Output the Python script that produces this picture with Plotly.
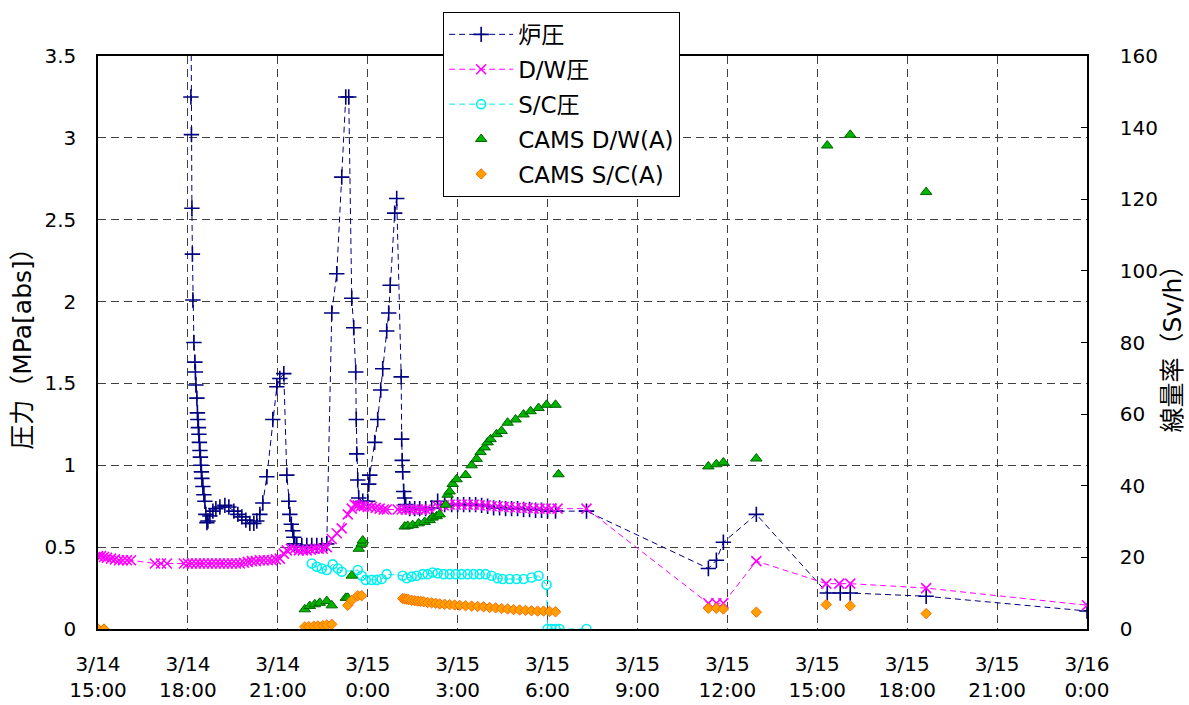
import pandas as pd
import plotly.graph_objects as go

# ---------------- data ----------------
rp_time = ["3/14 18:04", "3/14 18:06", "3/14 18:07", "3/14 18:08", "3/14 18:09", "3/14 18:10", "3/14 18:12",
           "3/14 18:14", "3/14 18:15", "3/14 18:16", "3/14 18:18", "3/14 18:19", "3/14 18:20", "3/14 18:21",
           "3/14 18:22", "3/14 18:23", "3/14 18:24", "3/14 18:25", "3/14 18:26", "3/14 18:27", "3/14 18:28",
           "3/14 18:30", "3/14 18:32", "3/14 18:34", "3/14 18:36", "3/14 18:38", "3/14 18:40", "3/14 18:44",
           "3/14 18:50", "3/14 18:56", "3/14 19:04", "3/14 19:14", "3/14 19:22", "3/14 19:32", "3/14 19:40",
           "3/14 19:48", "3/14 19:56", "3/14 20:04", "3/14 20:12", "3/14 20:18", "3/14 20:24", "3/14 20:30",
           "3/14 20:38", "3/14 20:50", "3/14 20:58", "3/14 21:04", "3/14 21:12", "3/14 21:18", "3/14 21:22",
           "3/14 21:24", "3/14 21:27", "3/14 21:30", "3/14 21:32", "3/14 21:34", "3/14 21:38", "3/14 21:48",
           "3/14 21:58", "3/14 22:08", "3/14 22:18", "3/14 22:28", "3/14 22:38", "3/14 22:48", "3/14 22:58",
           "3/14 23:08", "3/14 23:16", "3/14 23:22", "3/14 23:28", "3/14 23:32", "3/14 23:36", "3/14 23:37",
           "3/14 23:38", "3/14 23:40", "3/14 23:42", "3/14 23:50", "3/15 0:00", "3/15 0:02", "3/15 0:04",
           "3/15 0:14", "3/15 0:20", "3/15 0:26", "3/15 0:30", "3/15 0:38", "3/15 0:42", "3/15 0:45",
           "3/15 0:54", "3/15 0:58", "3/15 1:07", "3/15 1:08", "3/15 1:09", "3/15 1:10", "3/15 1:12",
           "3/15 1:14", "3/15 1:16", "3/15 1:24", "3/15 1:34", "3/15 1:44", "3/15 1:56", "3/15 2:08",
           "3/15 2:20", "3/15 2:34", "3/15 2:48", "3/15 3:00", "3/15 3:12", "3/15 3:24", "3/15 3:36",
           "3/15 3:48", "3/15 4:00", "3/15 4:12", "3/15 4:24", "3/15 4:36", "3/15 4:48", "3/15 5:00",
           "3/15 5:12", "3/15 5:24", "3/15 5:36", "3/15 5:48", "3/15 6:00", "3/15 6:16", "3/15 7:18",
           "3/15 11:22", "3/15 11:38", "3/15 11:52", "3/15 12:58", "3/15 15:20", "3/15 15:46", "3/15 16:06",
           "3/15 18:38", "3/16 0:00"]
rp_val = [5.4, 3.25, 3.02, 2.57, 2.29, 2.01, 1.75,
          1.63, 1.57, 1.49, 1.41, 1.32, 1.28, 1.23,
          1.19, 1.14, 1.09, 1.05, 1.00, 0.96, 0.92,
          0.87, 0.82, 0.78, 0.70, 0.65, 0.66, 0.69,
          0.72, 0.735, 0.745, 0.755, 0.745, 0.72, 0.70,
          0.685, 0.665, 0.645, 0.645, 0.66, 0.70, 0.77,
          0.93, 1.28, 1.48, 1.53, 1.56, 0.94, 0.78,
          0.70, 0.64, 0.60, 0.56, 0.52, 0.51, 0.51,
          0.51, 0.51, 0.51, 0.51, 0.52, 1.93, 2.17,
          2.76, 3.25, 3.25, 2.02, 1.84, 1.57, 1.28,
          1.07, 0.91, 0.80, 0.78, 0.78, 0.885, 0.94,
          1.14, 1.28, 1.46, 1.59, 1.82, 1.93, 2.10,
          2.54, 2.63, 1.54, 1.16, 1.03, 0.96, 0.84,
          0.80, 0.76, 0.735, 0.735, 0.735, 0.735, 0.74,
          0.78, 0.76, 0.76, 0.76, 0.76, 0.76, 0.76,
          0.755, 0.75, 0.74, 0.74, 0.735, 0.735, 0.735,
          0.73, 0.73, 0.725, 0.725, 0.72, 0.72, 0.72,
          0.37, 0.42, 0.53, 0.70, 0.22, 0.22, 0.22,
          0.20, 0.11]

dw_time = ["3/14 15:00", "3/14 15:06", "3/14 15:12", "3/14 15:18", "3/14 15:26", "3/14 15:34", "3/14 15:42",
           "3/14 15:50", "3/14 15:58", "3/14 16:06", "3/14 16:54", "3/14 17:06", "3/14 17:18", "3/14 17:52",
           "3/14 18:00", "3/14 18:08", "3/14 18:16", "3/14 18:24", "3/14 18:32", "3/14 18:40", "3/14 18:48",
           "3/14 18:56", "3/14 19:04", "3/14 19:12", "3/14 19:20", "3/14 19:28", "3/14 19:36", "3/14 19:44",
           "3/14 19:52", "3/14 20:00", "3/14 20:08", "3/14 20:16", "3/14 20:24", "3/14 20:32", "3/14 20:40",
           "3/14 20:48", "3/14 20:56", "3/14 21:04", "3/14 21:12", "3/14 21:18", "3/14 21:26", "3/14 21:34",
           "3/14 21:42", "3/14 21:50", "3/14 21:58", "3/14 22:06", "3/14 22:14", "3/14 22:22", "3/14 22:30",
           "3/14 22:38", "3/14 22:48", "3/14 22:58", "3/14 23:08", "3/14 23:20", "3/14 23:28", "3/14 23:34",
           "3/14 23:40", "3/14 23:46", "3/14 23:52", "3/15 0:00", "3/15 0:08", "3/15 0:16", "3/15 0:24",
           "3/15 0:32", "3/15 0:38", "3/15 1:00", "3/15 1:08", "3/15 1:16", "3/15 1:24", "3/15 1:32",
           "3/15 1:40", "3/15 1:48", "3/15 1:56", "3/15 2:04", "3/15 2:20", "3/15 2:32", "3/15 2:44",
           "3/15 2:56", "3/15 3:08", "3/15 3:20", "3/15 3:32", "3/15 3:44", "3/15 3:56", "3/15 4:08",
           "3/15 4:20", "3/15 4:32", "3/15 4:44", "3/15 4:56", "3/15 5:08", "3/15 5:20", "3/15 5:32",
           "3/15 5:44", "3/15 5:56", "3/15 6:08", "3/15 6:20", "3/15 7:18", "3/15 11:22", "3/15 11:38",
           "3/15 11:52", "3/15 12:58", "3/15 15:18", "3/15 15:44", "3/15 16:06", "3/15 18:38", "3/16 0:00"]
dw_val = [0.445, 0.445, 0.44, 0.435, 0.43, 0.425, 0.42,
          0.42, 0.42, 0.42, 0.40, 0.40, 0.40, 0.40,
          0.40, 0.40, 0.40, 0.40, 0.40, 0.40, 0.40,
          0.40, 0.40, 0.40, 0.40, 0.40, 0.40, 0.40,
          0.405, 0.41, 0.415, 0.415, 0.42, 0.42, 0.42,
          0.42, 0.425, 0.43, 0.46, 0.48, 0.49, 0.49,
          0.48, 0.48, 0.48, 0.485, 0.49, 0.49, 0.49,
          0.50, 0.55, 0.585, 0.615, 0.70, 0.735, 0.76,
          0.755, 0.75, 0.75, 0.745, 0.745, 0.74, 0.735,
          0.73, 0.73, 0.73, 0.73, 0.73, 0.73, 0.73,
          0.73, 0.73, 0.73, 0.73, 0.75, 0.755, 0.76,
          0.76, 0.76, 0.76, 0.76, 0.755, 0.755, 0.75,
          0.75, 0.745, 0.745, 0.74, 0.74, 0.74, 0.735,
          0.735, 0.735, 0.735, 0.735, 0.735, 0.157, 0.157,
          0.157, 0.415, 0.277, 0.277, 0.277, 0.25, 0.145]

sc_time = ["3/14 22:08", "3/14 22:18", "3/14 22:28", "3/14 22:38", "3/14 22:50", "3/14 23:00", "3/14 23:08",
           "3/14 23:40", "3/14 23:48", "3/14 23:56", "3/15 0:08", "3/15 0:18", "3/15 0:28", "3/15 0:38",
           "3/15 1:10", "3/15 1:18", "3/15 1:28", "3/15 1:38", "3/15 1:50", "3/15 2:00", "3/15 2:10",
           "3/15 2:20", "3/15 2:32", "3/15 2:44", "3/15 2:56", "3/15 3:08", "3/15 3:20", "3/15 3:32",
           "3/15 3:44", "3/15 3:56", "3/15 4:08", "3/15 4:20", "3/15 4:30", "3/15 4:44", "3/15 4:58",
           "3/15 5:12", "3/15 5:28", "3/15 5:42", "3/15 5:58", "3/15 6:00", "3/15 6:08", "3/15 6:16",
           "3/15 6:24", "3/15 7:18"]
sc_val = [0.40, 0.38, 0.37, 0.36, 0.395, 0.37, 0.35,
          0.36, 0.325, 0.30, 0.30, 0.30, 0.305, 0.335,
          0.325, 0.31, 0.32, 0.325, 0.335, 0.335, 0.345,
          0.34, 0.335, 0.335, 0.335, 0.335, 0.335, 0.335,
          0.335, 0.335, 0.325, 0.31, 0.305, 0.305, 0.305,
          0.305, 0.315, 0.325, 0.27, 0.0, 0.0, 0.0,
          0.0, 0.0]

cams_dw_time = ["3/14 15:00", "3/14 15:12", "3/14 21:54", "3/14 22:04", "3/14 22:14", "3/14 22:24", "3/14 22:38",
                "3/14 22:48", "3/14 23:16", "3/14 23:20", "3/14 23:28", "3/14 23:42", "3/14 23:48", "3/14 23:50",
                "3/15 1:14", "3/15 1:20", "3/15 1:30", "3/15 1:42", "3/15 1:54", "3/15 2:04", "3/15 2:10",
                "3/15 2:18", "3/15 2:24", "3/15 2:36", "3/15 2:40", "3/15 2:44", "3/15 2:50", "3/15 2:58",
                "3/15 3:16", "3/15 3:28", "3/15 3:38", "3/15 3:46", "3/15 3:54", "3/15 4:00", "3/15 4:06",
                "3/15 4:18", "3/15 4:28", "3/15 4:40", "3/15 4:56", "3/15 5:12", "3/15 5:26", "3/15 5:42",
                "3/15 5:58", "3/15 6:16", "3/15 6:22", "3/15 11:22", "3/15 11:38", "3/15 11:52", "3/15 12:58",
                "3/15 15:20", "3/15 16:06", "3/15 18:38"]
cams_dw_val = [0, 0, 5.5, 6.4, 6.9, 7.3, 7.8,
               6.6, 8.7, 8.7, 14.9, 22.4, 23.8, 24.7,
               28.6, 28.8, 29.0, 29.5, 29.9, 30.4, 31.1,
               31.5, 32.0, 34.7, 37.5, 38.4, 40.5, 41.8,
               43.0, 45.7, 47.5, 49.4, 50.7, 52.1, 53.0,
               54.4, 55.3, 57.6, 58.5, 59.9, 60.8, 61.7,
               62.6, 62.6, 43.2, 45.4, 46.0, 46.5, 47.6,
               135.0, 138.0, 122.0]

cams_sc_time = ["3/14 15:00", "3/14 15:12", "3/14 21:54", "3/14 22:02", "3/14 22:12", "3/14 22:20", "3/14 22:30",
                "3/14 22:38", "3/14 22:48", "3/14 23:20", "3/14 23:28", "3/14 23:40", "3/14 23:48",
                "3/15 1:10", "3/15 1:14", "3/15 1:18", "3/15 1:22", "3/15 1:28", "3/15 1:34", "3/15 1:40",
                "3/15 1:46", "3/15 1:52", "3/15 2:00", "3/15 2:08", "3/15 2:16", "3/15 2:24", "3/15 2:34",
                "3/15 2:44", "3/15 2:54", "3/15 3:04", "3/15 3:16", "3/15 3:28", "3/15 3:40", "3/15 3:52",
                "3/15 4:04", "3/15 4:16", "3/15 4:28", "3/15 4:40", "3/15 4:52", "3/15 5:04", "3/15 5:16",
                "3/15 5:28", "3/15 5:40", "3/15 5:52", "3/15 6:04", "3/15 6:16",
                "3/15 11:22", "3/15 11:38", "3/15 11:52", "3/15 12:58", "3/15 15:18", "3/15 16:06", "3/15 18:38"]
cams_sc_val = [0, 0, 0.6, 0.65, 0.75, 0.85, 0.95,
               1.1, 1.3, 6.6, 8.0, 9.3, 9.3,
               8.5, 8.4, 8.3, 8.2, 8.0, 7.9, 7.8,
               7.7, 7.6, 7.4, 7.3, 7.2, 7.0, 6.9,
               6.8, 6.7, 6.6, 6.5, 6.4, 6.3, 6.2,
               6.0, 5.9, 5.7, 5.6, 5.4, 5.3, 5.2,
               5.1, 5.0, 5.0, 4.9, 4.8,
               5.8, 5.8, 5.6, 4.7, 6.8, 6.45, 4.3]

tick_times = ["3/14 15:00", "3/14 18:00", "3/14 21:00", "3/15 0:00", "3/15 3:00", "3/15 6:00",
              "3/15 9:00", "3/15 12:00", "3/15 15:00", "3/15 18:00", "3/15 21:00", "3/16 0:00"]
tick_text = ["3/14<br>15:00", "3/14<br>18:00", "3/14<br>21:00", "3/15<br>0:00", "3/15<br>3:00",
             "3/15<br>6:00", "3/15<br>9:00", "3/15<br>12:00", "3/15<br>15:00", "3/15<br>18:00",
             "3/15<br>21:00", "3/16<br>0:00"]


def to_dt(lst):
    return pd.to_datetime(["2011/" + s for s in lst], format="%Y/%m/%d %H:%M")


FONT = "DejaVu Sans, Noto Sans CJK JP, sans-serif"

fig = go.Figure()

fig.add_trace(go.Scatter(
    x=to_dt(rp_time), y=rp_val, name="炉圧", mode="lines+markers", legendgroup="a",
    line=dict(color="#000080", width=1, dash="6px,4px"),
    marker=dict(symbol="cross-thin", size=11, line=dict(color="#000080", width=1.6)),
))
fig.add_trace(go.Scatter(
    x=to_dt(dw_time), y=dw_val, name="D/W圧", mode="lines+markers", legendgroup="b",
    line=dict(color="#FF00FF", width=1, dash="6px,4px"),
    marker=dict(symbol="x-thin", size=10, line=dict(color="#FF00FF", width=1.6)),
))
fig.add_trace(go.Scatter(
    x=to_dt(sc_time), y=sc_val, name="S/C圧", mode="lines+markers", legendgroup="c",
    line=dict(color="#00E5E5", width=1, dash="6px,4px"),
    marker=dict(symbol="circle-open", size=9, color="#00F0F0", line=dict(color="#00F0F0", width=1.6)),
))
fig.add_trace(go.Scatter(
    x=to_dt(cams_dw_time), y=cams_dw_val, name="CAMS D/W(A)", mode="markers", legendgroup="d",
    yaxis="y2",
    marker=dict(symbol="triangle-up", size=10, color="#00B400", line=dict(color="#006400", width=1)),
))
fig.add_trace(go.Scatter(
    x=to_dt(cams_sc_time), y=cams_sc_val, name="CAMS S/C(A)", mode="markers", legendgroup="e",
    yaxis="y2",
    marker=dict(symbol="diamond", size=8, color="#FFA000", line=dict(color="#FF6A00", width=1)),
))

grid = dict(showgrid=True, gridcolor="#404040", gridwidth=1, griddash="8px,5px")

fig.update_layout(
    width=1189, height=705,
    margin=dict(l=98, r=102, t=48, b=76),
    paper_bgcolor="white", plot_bgcolor="white",
    font=dict(family=FONT, size=20, color="black"),
    showlegend=True,
    legend=dict(x=0.349, y=1.077, xanchor="left", yanchor="top",
                bgcolor="white", bordercolor="black", borderwidth=1,
                font=dict(family=FONT, size=23), tracegroupgap=2,
                itemwidth=64),
    xaxis=dict(
        range=[to_dt(["3/14 15:00"])[0], to_dt(["3/16 0:00"])[0]],
        tickmode="array", tickvals=to_dt(tick_times), ticktext=tick_text,
        showline=True, linecolor="black", linewidth=1.5, mirror=True,
        ticks="", ticklabelstandoff=16, tickfont=dict(size=20),
        automargin=False,
        **grid,
    ),
    yaxis=dict(
        range=[0, 3.5], dtick=0.5, tick0=0,
        showline=True, linecolor="black", linewidth=1.5, mirror=True,
        ticks="", ticklabelstandoff=16, tickfont=dict(size=20),
        title=dict(text="圧力（MPa[abs]）", font=dict(size=25), standoff=6),
        zeroline=False, automargin=False,
        **grid,
    ),
    yaxis2=dict(
        range=[0, 160], dtick=20, tick0=0, overlaying="y", side="right",
        showgrid=False, zeroline=False,
        showline=True, linecolor="black", linewidth=1.5,
        ticks="inside", ticklen=6, tickcolor="black",
        tickfont=dict(size=20), ticklabelstandoff=27,
        title=dict(text="線量率（Sv/h）", font=dict(size=25), standoff=4),
        automargin=False,
    ),
)

fig.write_html(
    "out.html",
    config={"displayModeBar": False},
    post_script="document.body.style.margin='0';document.body.style.overflow='hidden';",
)
